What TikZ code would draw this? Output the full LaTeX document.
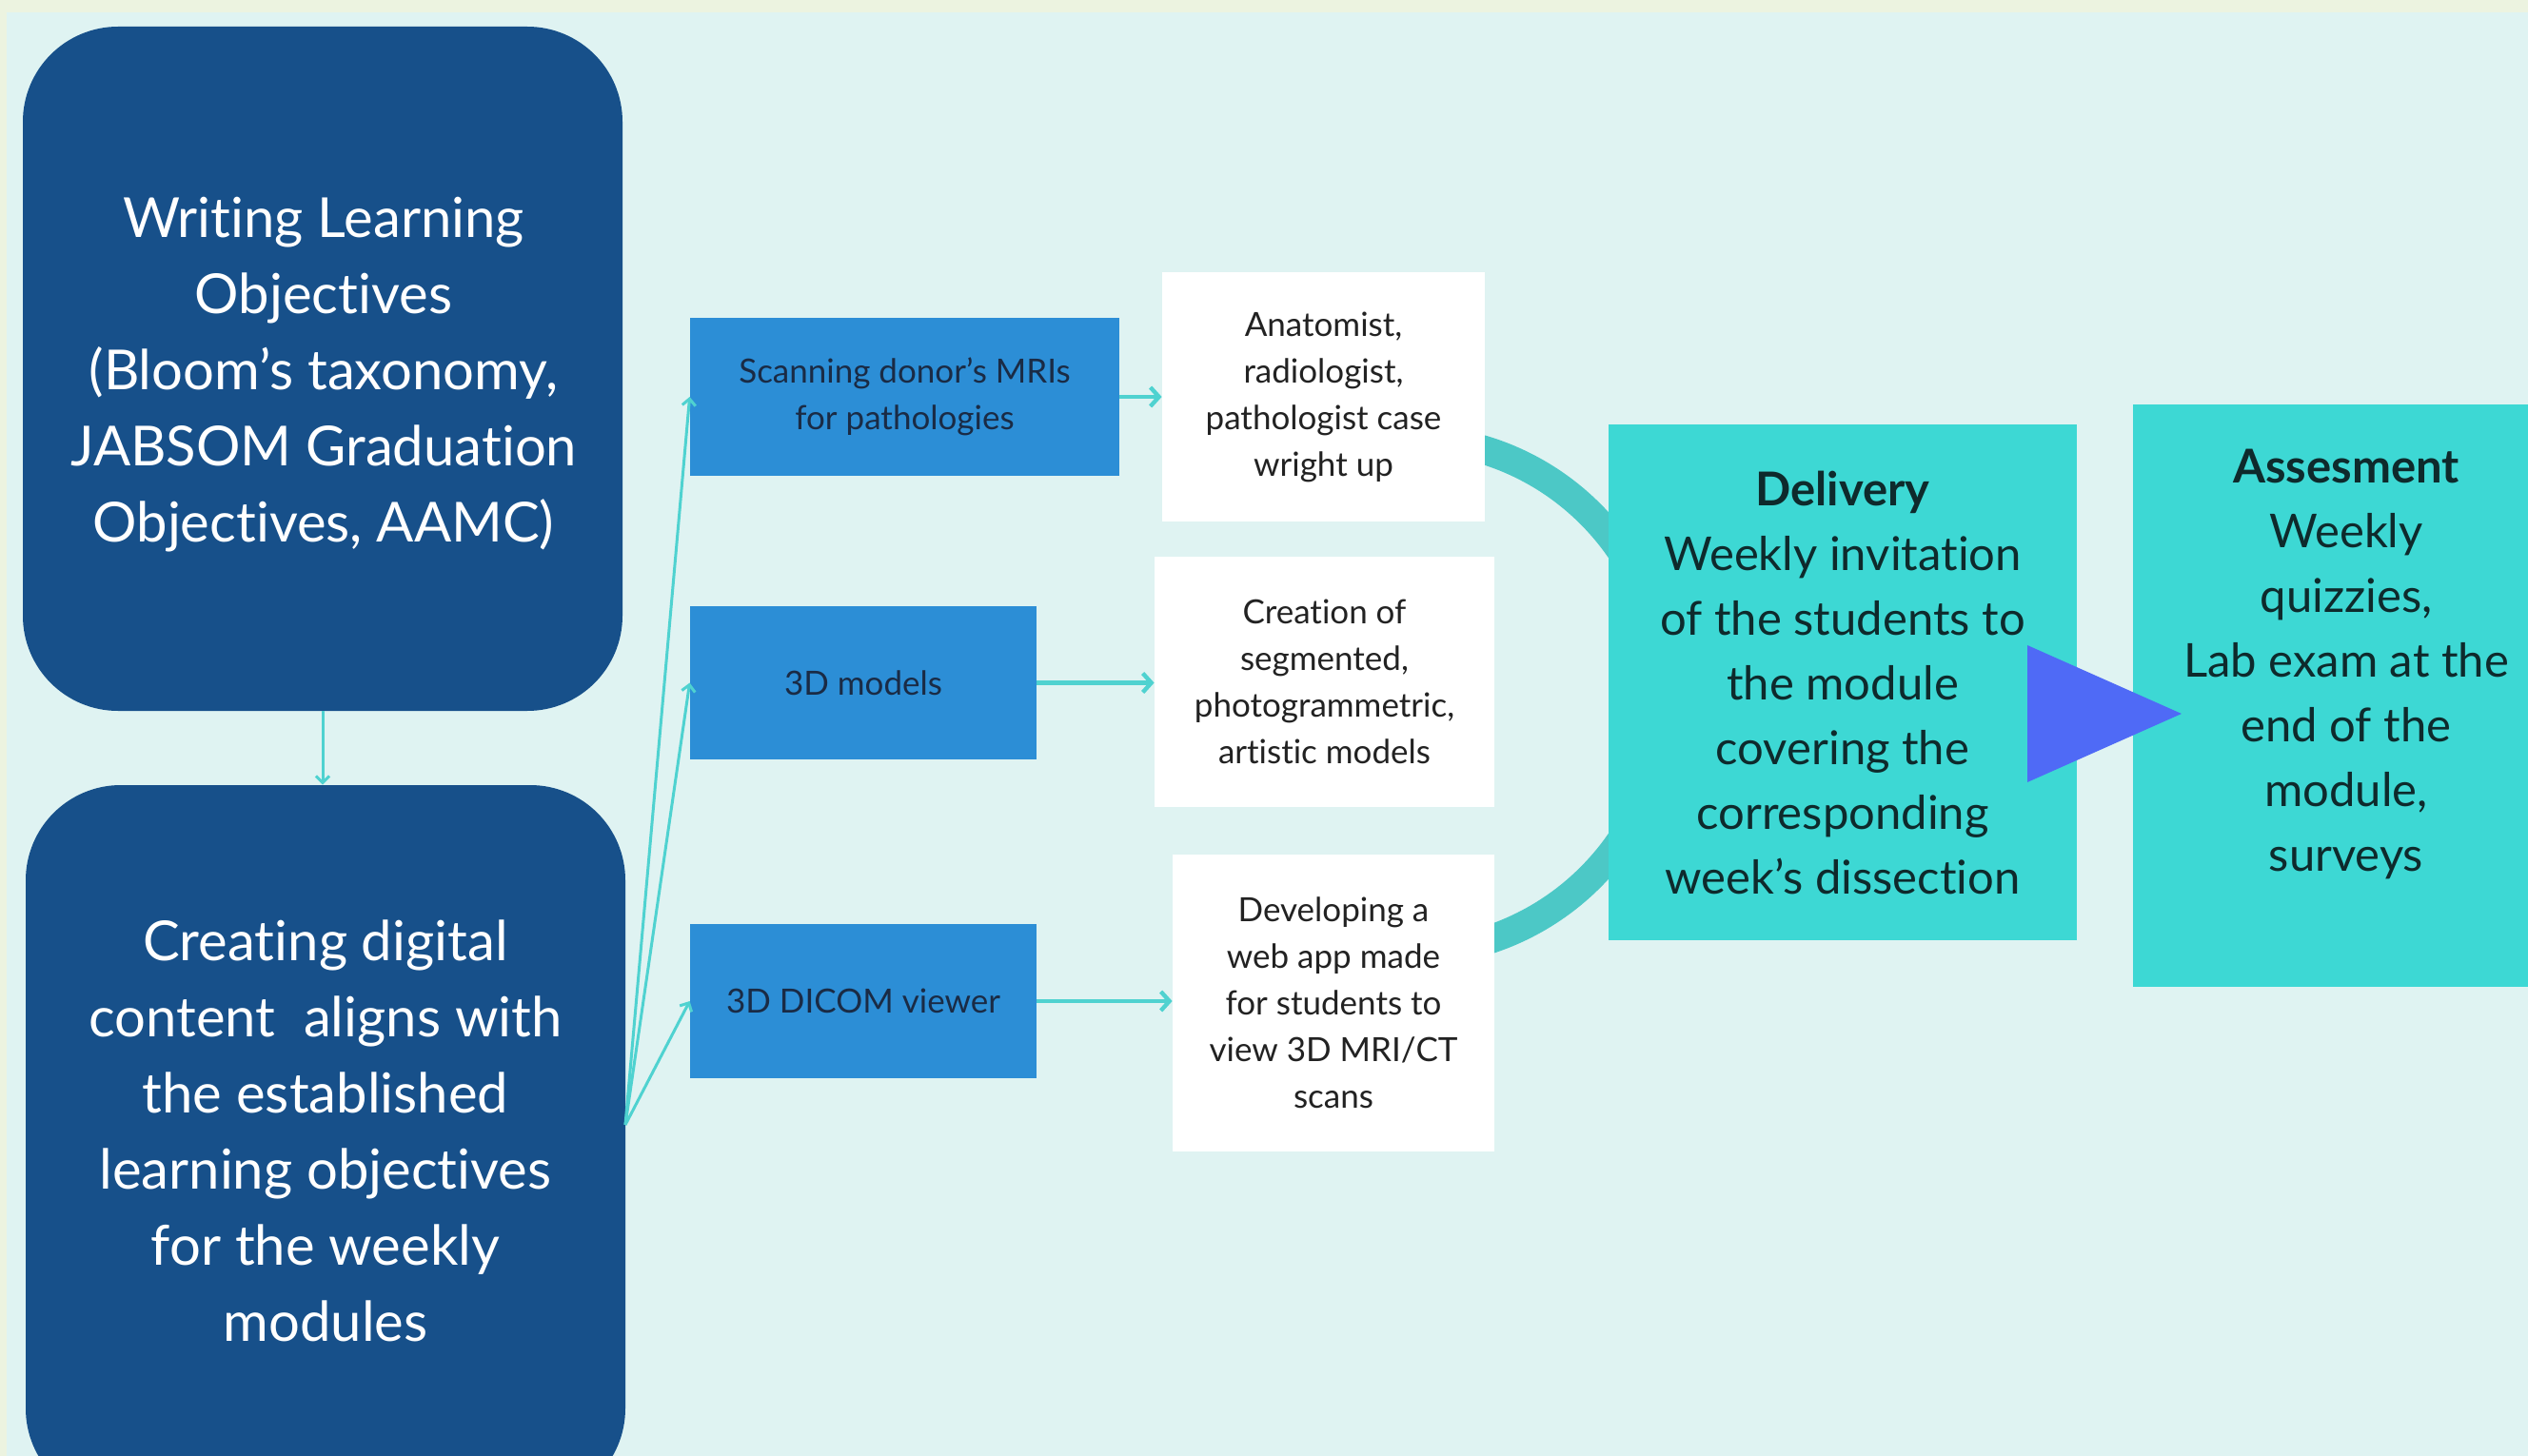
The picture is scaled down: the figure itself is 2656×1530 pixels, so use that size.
\documentclass[tikz,border=0pt]{standalone}
\usepackage{fontspec}
\setmainfont[Ligatures={NoCommon}]{Lato}
\usetikzlibrary{arrows.meta}
\definecolor{bgc}{HTML}{DFF3F2}
\definecolor{edgec}{HTML}{ECF3E0}
\definecolor{navy}{HTML}{17508A}
\definecolor{midblue}{HTML}{2C8ED6}
\definecolor{turq}{HTML}{3DD8D4}
\definecolor{arcc}{HTML}{4CC8C6}
\definecolor{tri}{HTML}{4F6AF6}
\definecolor{arrowc}{HTML}{4FD2D0}
\definecolor{navytext}{HTML}{1A2B45}
\definecolor{blk}{HTML}{222222}
\definecolor{deeptext}{HTML}{0E2A2C}
\begin{document}
\begin{tikzpicture}[x=0.5pt,y=-0.5pt,
  navybox/.style={fill=navy, draw=none, rounded corners=50pt, inner sep=0pt},
  bigtext/.style={text=white, align=center, inner sep=0pt, font=\fontsize{29}{40}\selectfont},
  bluebox/.style={fill=midblue, draw=none, inner sep=0pt, text=navytext, align=center, font=\fontsize{17.5}{24.5}\selectfont},
  whitebox/.style={fill=white, draw=none, inner sep=0pt, text=blk, align=center, font=\fontsize{17.5}{24.5}\selectfont},
  turqbox/.style={fill=turq, draw=none, inner sep=0pt},
  turqtext/.style={text=deeptext, align=center, inner sep=0pt, font=\fontsize{24.5}{34}\selectfont},
  fan/.style={draw=arrowc, line width=1.5pt, -{Straight Barb[length=3.5pt,width=7pt]}},
  conn/.style={draw=arrowc, line width=2.2pt, -{Straight Barb[length=4.5pt,width=10pt]}}
]
\useasboundingbox (0,0) rectangle (2656,1530);
\fill[edgec] (0,0) rectangle (2656,1530);
\fill[bgc] (7,13) rectangle (2656,1530);

% arc behind boxes
\draw[arcc, line width=15pt] (1480,731) ++(-80:270) arc[start angle=-80, end angle=80, radius=270];

% left column
\node[navybox, minimum width=315pt, minimum height=359.5pt] (obj) at (339,387.5) {};
\node[bigtext] (objt) at (340,394)
  {Writing Learning\\Objectives\\(Bloom’s taxonomy,\\JABSOM Graduation\\Objectives, AAMC)};
\node[navybox, minimum width=315pt, minimum height=377.5pt] (dig) at (342,1202.5) {};
\node[bigtext] (digt) at (342,1188)
  {Creating digital\\content\ \ aligns with\\the established\\learning objectives\\for the weekly\\modules};

% middle boxes
\node[bluebox, minimum width=225.5pt, minimum height=83pt] (scan) at (950.5,417) {Scanning donor’s MRIs\\for pathologies};
\node[bluebox, minimum width=182pt, minimum height=80.5pt] (models) at (907,717.5) {3D models};
\node[bluebox, minimum width=182pt, minimum height=81pt] (dicom) at (907,1052) {3D DICOM viewer};

\node[whitebox, minimum width=169.5pt, minimum height=131pt] (w1) at (1390.5,417) {Anatomist,\\radiologist,\\pathologist case\\wright up};
\node[whitebox, minimum width=178.5pt, minimum height=131.5pt] (w2) at (1391.5,716.5) {Creation of\\segmented,\\photogrammetric,\\artistic models};
\node[whitebox, minimum width=169pt, minimum height=156pt] (w3) at (1401,1054) {Developing a\\web app made\\for students to\\view 3D MRI/CT\\scans};

% right boxes
\node[turqbox, minimum width=246pt, minimum height=271pt, turqtext] (deliv) at (1936,717)
  {\textbf{Delivery}\\Weekly invitation\\of the students to\\the module\\covering the\\corresponding\\week’s dissection};
\node[turqbox, minimum width=219.5pt, minimum height=306pt] (assess) at (2460.5,731) {};
\node[turqtext] (assesst) at (2465,698)
  {\textbf{Assesment}\\Weekly\\quizzies,\\Lab exam at the\\end of the\\module,\\surveys};

% triangle
\fill[tri] (2130,678) -- (2130,822) -- (2292,750) -- cycle;

% connectors
\coordinate (src) at (657,1182);
\draw[fan] (src) -- (scan.west);
\draw[fan] (src) -- (models.west);
\draw[fan] (src) -- (dicom.west);
\draw[fan] (obj.south) -- (obj.south |- dig.north);
\draw[conn] (scan.east) -- (w1.west);
\draw[conn] (models.east) -- (models.east -| w2.west);
\draw[conn] (dicom.east) -- (dicom.east -| w3.west);
\end{tikzpicture}
\end{document}
